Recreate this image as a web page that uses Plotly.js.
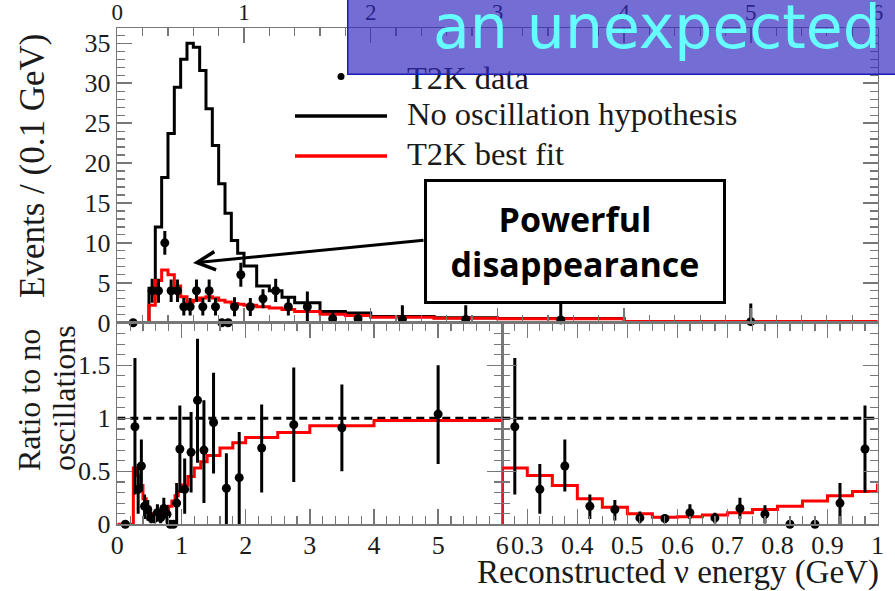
<!DOCTYPE html>
<html><head><meta charset="utf-8">
<script src="https://cdn.plot.ly/plotly-3.0.1.min.js"></script>
<style>html,body{margin:0;padding:0;background:#fff}</style>
</head><body><div id="chart" style="width:895px;height:591px"></div>
<script>
// ---- data ----
const binEdges = [0, 0.25, 0.30, 0.35, 0.40, 0.45, 0.50, 0.55, 0.60, 0.65, 0.70, 0.75, 0.80, 0.85, 0.90, 0.95, 1.00, 1.1, 1.2, 1.3, 1.4, 1.6, 1.8, 2.0, 2.5, 3.0, 4.0, 6.0];
const noOscillation = [0, 4.3, 12.0, 18.2, 23.7, 29.5, 33.0, 35.0, 34.5, 31.6, 26.8, 22.2, 17.4, 13.7, 10.3, 8.7, 7.1, 4.6, 4.0, 3.2, 2.5, 1.4, 1.2, 0.78, 0.62, 0.53, 0.14];
const bestFit = [0, 2.2, 5.3, 6.6, 6.0, 4.6, 3.25, 2.6, 2.8, 3.1, 3.25, 3.1, 2.8, 2.6, 2.4, 2.3, 2.2, 2.0, 1.85, 1.65, 1.4, 1.05, 0.9, 0.68, 0.55, 0.5, 0.14];
const bestFitRatio = [0, 0.53, 0.46, 0.365, 0.24, 0.16, 0.10, 0.066, 0.072, 0.088, 0.11, 0.14, 0.17, 0.22, 0.27, 0.31, 0.37, 0.45, 0.53, 0.59, 0.65, 0.72, 0.77, 0.82, 0.865, 0.93, 0.98];
const dataEnergy = [0.125, 0.275, 0.325, 0.375, 0.425, 0.475, 0.525, 0.575, 0.625, 0.675, 0.725, 0.775, 0.825, 0.875, 0.925, 0.975, 1.05, 1.15, 1.25, 1.35, 1.5, 1.7, 1.9, 2.25, 2.75, 3.5, 5.0];
const dataEvents = [0, 4, 4, 10, 4, 4, 2, 2, 4, 2, 4, 2, 0, 0, 2, 6, 2, 3, 4, 2, 2, 0.5, 0.5, 0.4, 0.4, 0.35, 0.13];
const dataEventsHigh = [0, 5.5, 5.5, 11.5, 5.4, 5.4, 3.1, 3.1, 5.4, 3.1, 5.4, 3.1, 0, 0, 3.2, 7.5, 3.1, 4.2, 5.5, 3.1, 3.9, 1.3, 1.3, 2.2, 2.2, 2.4, 2.4];
const dataEventsLow = [0, 2.5, 2.5, 8.5, 2.6, 2.6, 0.9, 0.9, 2.6, 0.9, 2.6, 0.9, 0, 0, 0.8, 4.5, 0.85, 1.8, 2.6, 0.9, 0.1, 0, 0, 0.05, 0.05, 0, 0];
const dataRatio = [0, 0.92, 0.33, 0.55, 0.17, 0.14, 0.06, 0.055, 0.11, 0.06, 0.15, 0.095, 0, 0, 0.2, 0.71, 0.33, 0.68, 1.17, 0.70, 0.96, 0.34, 0.44, 0.72, 0.94, 0.91, 1.04];
const dataRatioHigh = [0, 1.57, 0.57, 0.80, 0.28, 0.23, 0.12, 0.095, 0.19, 0.11, 0.25, 0.18, 0, 0, 0.39, 1.12, 0.62, 1.06, 1.75, 1.17, 1.43, 0.67, 0.87, 1.13, 1.48, 1.32, 1.50];
const dataRatioLow = [0, 0.28, 0.10, 0.31, 0.05, 0.035, 0.01, 0.01, 0.05, 0.01, 0.05, 0.01, 0, 0, 0, 0.30, 0.10, 0.30, 0.58, 0.20, 0.48, 0, 0, 0.30, 0.40, 0.50, 0.57];
const unityRatio = 1;
const zoomRange = [0.25, 1.0];
const legendLabels = ["T2K data", "No oscillation hypothesis", "T2K best fit"];

// ---- helpers ----
const W = 895, H = 591;
const px = v => v / W, py = v => 1 - v / H;
const stepY = arr => arr.concat([arr[arr.length - 1]]);
const up = (hi, v) => hi.map((h, i) => h - v[i]);
const dn = (lo, v) => lo.map((l, i) => v[i] - l);
const inZoom = dataEnergy.map(e => e >= zoomRange[0] && e <= zoomRange[1]);
const pick = arr => arr.filter((_, i) => inZoom[i]);

const serif = 'Liberation Serif, Times New Roman, serif';
const axisCol = '#777';
const txtCol = '#1a1a1a';

const errStyle = (hi, lo, v) => ({type: 'data', symmetric: false, array: up(hi, v), arrayminus: dn(lo, v), color: '#000', thickness: 3, width: 0});
const mk = {color: '#000', size: 9};

const traces = [
  {x: binEdges, y: stepY(noOscillation), xaxis: 'x', yaxis: 'y', mode: 'lines', line: {shape: 'hv', color: '#000', width: 3}},
  {x: binEdges, y: stepY(bestFit), xaxis: 'x', yaxis: 'y', mode: 'lines', line: {shape: 'hv', color: '#ff0000', width: 3}},
  {x: dataEnergy, y: dataEvents, xaxis: 'x', yaxis: 'y', mode: 'markers', marker: mk, cliponaxis: false,
   error_y: errStyle(dataEventsHigh, dataEventsLow, dataEvents)},
  // bottom-left ratio
  {x: [0, 6], y: [unityRatio, unityRatio], xaxis: 'x2', yaxis: 'y2', mode: 'lines', line: {color: '#000', width: 3, dash: '8px,5px'}},
  {x: binEdges, y: stepY(bestFitRatio), xaxis: 'x2', yaxis: 'y2', mode: 'lines', line: {shape: 'hv', color: '#ff0000', width: 3}},
  {x: dataEnergy, y: dataRatio, xaxis: 'x2', yaxis: 'y2', mode: 'markers', marker: mk, cliponaxis: false,
   error_y: errStyle(dataRatioHigh, dataRatioLow, dataRatio)},
  // bottom-right zoom
  {x: zoomRange, y: [unityRatio, unityRatio], xaxis: 'x3', yaxis: 'y3', mode: 'lines', line: {color: '#000', width: 3, dash: '8px,5px'}},
  {x: binEdges, y: stepY(bestFitRatio), xaxis: 'x3', yaxis: 'y3', mode: 'lines', line: {shape: 'hv', color: '#ff0000', width: 3}},
  {x: pick(dataEnergy), y: pick(dataRatio), xaxis: 'x3', yaxis: 'y3', mode: 'markers', marker: mk, cliponaxis: false,
   error_y: errStyle(pick(dataRatioHigh), pick(dataRatioLow), pick(dataRatio))}
];

const tickfont = {family: serif, size: 26, color: txtCol};
const baseAxis = {showline: true, linecolor: axisCol, linewidth: 1.5, mirror: 'ticks', ticks: 'inside',
  ticklen: 15, tickwidth: 1.5, tickcolor: axisCol, showgrid: false, zeroline: false, tickfont: tickfont, fixedrange: true};
const minor = (d, t0) => ({dtick: d, tick0: t0 || 0, ticks: 'inside', ticklen: 8, tickwidth: 1.2, tickcolor: axisCol, showgrid: false});

const xL = 117.3, xM = 502.3, xR = 877.5, yT = 28.3, yMid = 322.7, yB = 524.3;
const evPerPx = 35 / (yMid - 43.3);
const ratioPerPx = 1 / (yB - 418.3);

const layout = {
  width: W, height: H, margin: {l: 0, r: 0, t: 0, b: 0},
  paper_bgcolor: '#fff', plot_bgcolor: '#fff', showlegend: false,
  xaxis: Object.assign({}, baseAxis, {domain: [px(xL), px(xR)], range: [0, 6], anchor: 'y', side: 'top',
    tickmode: 'linear', tick0: 0, dtick: 1, minor: minor(0.2), ticklabelstandoff: -2,
    tickfont: {family: serif, size: 23, color: txtCol}}),
  yaxis: Object.assign({}, baseAxis, {domain: [py(yMid), py(yT)], range: [0, (yMid - yT) * evPerPx], anchor: 'x',
    tickmode: 'linear', tick0: 0, dtick: 5, minor: minor(1), ticklabelstandoff: 0}),
  xaxis2: Object.assign({}, baseAxis, {domain: [px(xL), px(xM)], range: [0, 6], anchor: 'y2',
    tickmode: 'linear', tick0: 0, dtick: 1, minor: minor(0.2), ticklabelstandoff: -3}),
  yaxis2: Object.assign({}, baseAxis, {domain: [py(yB), py(yMid)], range: [0, (yB - yMid) * ratioPerPx], anchor: 'x2',
    tickmode: 'linear', tick0: 0, dtick: 0.5, minor: minor(0.1), ticklabelstandoff: 0}),
  xaxis3: Object.assign({}, baseAxis, {domain: [px(xM), px(xR)], range: zoomRange, anchor: 'y3',
    tickmode: 'linear', tick0: 0.3, dtick: 0.1, minor: minor(0.025, 0.25), ticklabelstandoff: -3}),
  yaxis3: Object.assign({}, baseAxis, {domain: [py(yB), py(yMid)], range: [0, (yB - yMid) * ratioPerPx], anchor: 'x3',
    tickmode: 'linear', tick0: 0, dtick: 0.5, minor: minor(0.1), showticklabels: false}),
  shapes: [
    {type: 'line', xref: 'paper', yref: 'paper', x0: px(295), x1: px(387), y0: py(116), y1: py(116), line: {color: '#000', width: 3.5}},
    {type: 'line', xref: 'paper', yref: 'paper', x0: px(295), x1: px(387), y0: py(156), y1: py(156), line: {color: '#ff0000', width: 3.5}},
    {type: 'circle', xref: 'paper', yref: 'paper', x0: px(337.5), x1: px(344.5), y0: py(80), y1: py(73), fillcolor: '#000', line: {width: 0}}
  ],
  annotations: [
    {text: legendLabels[0], xref: 'paper', yref: 'paper', x: px(405), y: py(78), xanchor: 'left', yanchor: 'middle', showarrow: false, font: {family: serif, size: 32.5, color: txtCol}},
    {text: legendLabels[1], xref: 'paper', yref: 'paper', x: px(405), y: py(114), xanchor: 'left', yanchor: 'middle', showarrow: false, font: {family: serif, size: 32.5, color: txtCol}},
    {text: legendLabels[2], xref: 'paper', yref: 'paper', x: px(405), y: py(154), xanchor: 'left', yanchor: 'middle', showarrow: false, font: {family: serif, size: 32.5, color: txtCol}},
    {text: 'Events / (0.1 GeV)', xref: 'paper', yref: 'paper', x: px(32), y: py(166), xanchor: 'center', yanchor: 'middle', textangle: -90, showarrow: false, font: {family: serif, size: 35, color: txtCol}},
    {text: 'Ratio to no', xref: 'paper', yref: 'paper', x: px(29), y: py(400), xanchor: 'center', yanchor: 'middle', textangle: -90, showarrow: false, font: {family: serif, size: 32, color: txtCol}},
    {text: 'oscillations', xref: 'paper', yref: 'paper', x: px(64), y: py(398), xanchor: 'center', yanchor: 'middle', textangle: -90, showarrow: false, font: {family: serif, size: 32, color: txtCol}},
    {text: 'Reconstructed \u03bd energy (GeV)', xref: 'paper', yref: 'paper', x: px(881), y: py(572), xanchor: 'right', yanchor: 'middle', showarrow: false, font: {family: serif, size: 33, color: txtCol}},
    // blue overlay box
    {text: '\u00a0', xref: 'paper', yref: 'paper', x: px(347), y: py(75), xanchor: 'left', yanchor: 'bottom', width: 600, height: 110,
     bgcolor: 'rgba(50,40,190,0.68)', bordercolor: '#1c1cb4', borderwidth: 1.5, borderpad: 0, showarrow: false},
    {text: 'an unexpected', xref: 'paper', yref: 'paper', x: px(431), y: py(27), xanchor: 'left', yanchor: 'middle', showarrow: false,
     font: {family: 'DejaVu Sans, sans-serif', size: 60, color: '#66ffff'}},
    // callout
    {text: '', xref: 'paper', yref: 'paper', x: px(193), y: py(263), ax: 232, ay: -23, showarrow: true,
     arrowhead: 5, arrowsize: 1.2, arrowwidth: 3, arrowcolor: '#000', standoff: 0},
    {text: '<b>Powerful</b><br><b>disappearance</b>', xref: 'paper', yref: 'paper', x: px(575), y: py(241.5), xanchor: 'center', yanchor: 'middle',
     width: 296, height: 119, bgcolor: '#fff', bordercolor: '#000', borderwidth: 3, borderpad: 0, showarrow: false,
     font: {family: 'Open Sans, sans-serif', size: 34, color: '#000'}}
  ]
};

Plotly.newPlot('chart', traces, layout, {displayModeBar: false, staticPlot: true});
</script>
</body></html>
